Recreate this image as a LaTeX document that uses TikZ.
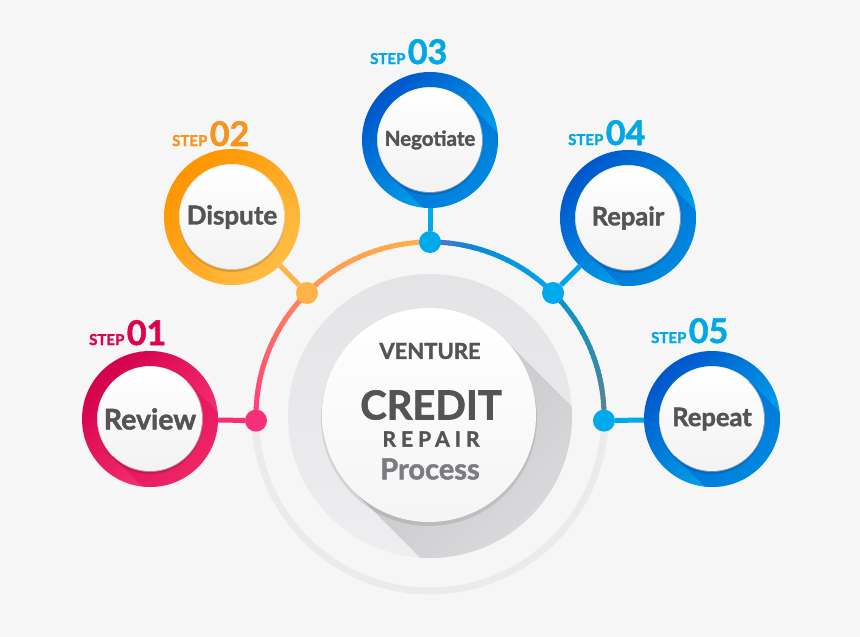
\documentclass[tikz,border=0pt]{standalone}
\usepackage{fontspec}
\setmainfont{Lato}[BoldFeatures={FakeBold=1.6}]
\definecolor{bg}{HTML}{F6F6F6}
\definecolor{txt}{HTML}{545457}
\definecolor{proc}{HTML}{7B7B80}
\definecolor{arcgray}{HTML}{EBEBED}
\definecolor{discA}{HTML}{E4E4E6}
\definecolor{discB}{HTML}{EEEEF0}
\definecolor{shadA}{HTML}{C4C4C6}
\definecolor{redD}{HTML}{D2004A}
\definecolor{redL}{HTML}{FF3A78}
\definecolor{redT}{HTML}{E0004D}
\definecolor{orD}{HTML}{FF9400}
\definecolor{orL}{HTML}{FFBC42}
\definecolor{orT}{HTML}{F7941D}
\definecolor{blD}{HTML}{0056CC}
\definecolor{blL}{HTML}{00B2F0}
\definecolor{blT}{HTML}{00A8E8}
\definecolor{dotR}{HTML}{F72F78}
\definecolor{dotO}{HTML}{FFB347}
\definecolor{dotB}{HTML}{00A8EC}
\definecolor{linR}{HTML}{F2306E}
\definecolor{linB}{HTML}{00A4E8}
\definecolor{aPink}{HTML}{FF3A80}
\definecolor{aSalmon}{HTML}{FF8A5C}
\definecolor{aSalmon2}{HTML}{FF9656}
\definecolor{aOrange}{HTML}{FFB24A}
\definecolor{aPurple}{HTML}{6070CC}
\definecolor{aBlue1}{HTML}{0888D8}
\definecolor{aBlue2}{HTML}{00A8EC}
\definecolor{aTeal1}{HTML}{0598CC}
\definecolor{aTeal2}{HTML}{2A8CAE}
\definecolor{aSlate}{HTML}{64808E}
\newcommand\gradarc[5]{%
  \foreach \i in {1,...,#5}{%
    \pgfmathsetmacro\aA{#1+(#2-#1)*(\i-1)/#5}%
    \pgfmathsetmacro\aB{#1+(#2-#1)*(\i+0.35)/#5}%
    \pgfmathtruncatemacro\pp{100*(\i-0.5)/#5}%
    \colorlet{segc}{#4!\pp!#3}%
    \draw[line width=5pt, segc] plot[domain=\aA:\aB, samples=3] ({430+174*cos(\x)},{416-174*sin(\x)});
  }}
\newcommand\stepcirc[9]{%
  % #1 name, #2 cx, #3 cy, #4 dark, #5 light, #6 text, #7 size, #8 band opacity, #9 band colour
  \shade[even odd rule, top color=#4, bottom color=#5, shading angle=45]
    (#2,#3) circle[radius=68pt] (#2,#3) circle[radius=53pt];
  \begin{scope}
    \clip (#2,#3) circle[radius=68pt];
    \fill[#9, opacity=#8] ({#2+37.5},{#3-37.5}) -- ++(90,90) -- ({#2-37.5+90},{#3+37.5+90}) -- ({#2-37.5},{#3+37.5}) -- cycle;
  \end{scope}
  \fill[black, opacity=0.14] (#2,{#3+2.5}) circle[radius=52.5pt];
  \shade[top color=white, bottom color=black!5] (#2,#3) circle[radius=52pt];
  \node[steptext, font=\fontsize{#7}{#7}\selectfont\bfseries] (#1) at (#2,#3) {#6};
}
\begin{document}
\begin{tikzpicture}[x=1pt,y=-1pt,
  steptext/.style={circle, minimum size=136pt, inner sep=0pt, text=txt},
  dotnode/.style={circle, minimum size=22pt, inner sep=0pt},
  link/.style={line width=5pt},
  lbl/.style={anchor=base west, inner sep=0pt, font=\bfseries},
  ctext/.style={inner sep=0pt, text=txt}]
\fill[bg] (0,0) rectangle (860,637);
\useasboundingbox (0,0) rectangle (860,637);

% outer light ring (lower part)
\draw[line width=7pt, arcgray] plot[domain=-1.5:-178.5, samples=120] ({430+175*cos(\x)},{416-175*sin(\x)});

% central gray disc with long shadow
\shade[top color=discA, bottom color=discB] (430,416) circle[radius=142pt];
\begin{scope}
  \clip (430,416) circle[radius=142pt];
  \shade[top color=shadA, bottom color=discA!70!discB, shading angle=45]
    (504.7,339.3) -- ++(160,160) -- (513.3,650.7) -- (353.3,490.7) -- cycle;
\end{scope}
\fill[black, opacity=0.10] (429,418) circle[radius=108pt];
\shade[top color=white, bottom color=black!4] (429,415) circle[radius=107pt];

% dot positions
\coordinate (p1) at (256,420.6);
\coordinate (p2) at (307,293);
\coordinate (p3) at (430,242);
\coordinate (p4) at (553,293);
\coordinate (p5) at (604,420.6);

% coloured arc
\gradarc{181.5}{135}{aPink}{aSalmon}{24}
\gradarc{135}{90}{aSalmon2}{aOrange}{24}
\gradarc{90}{75}{aPurple}{aBlue1}{10}
\gradarc{75}{45}{aBlue1}{aBlue2}{16}
\gradarc{45}{20}{aTeal1}{aTeal2}{14}
\gradarc{20}{-1.5}{aTeal2}{aSlate}{14}

% step circles
\stepcirc{s1}{150}{419}{redD}{redL}{Review}{28.5}{0.35}{redD}
\stepcirc{s2}{232}{217}{orD}{orL}{Dispute}{26}{0.25}{orL}
\stepcirc{s3}{430}{140}{blD}{blL}{Negotiate}{20.5}{0.45}{blD}
\stepcirc{s4}{628}{218}{blD}{blL}{Repair}{25.5}{0.45}{blD}
\stepcirc{s5}{712}{419}{blD}{blL}{Repeat}{25.5}{0.45}{blD}

% dots
\node[dotnode, fill=dotR] (d1) at (p1) {};
\node[dotnode, fill=dotO] (d2) at (p2) {};
\node[dotnode, fill=dotB] (d3) at (p3) {};
\node[dotnode, fill=dotB] (d4) at (p4) {};
\node[dotnode, fill=dotB] (d5) at (p5) {};

% connectors
\draw[link, linR] (s1) -- (d1);
\draw[link, dotO] (s2) -- (d2);
\draw[link, dotB] (s3) -- (d3);
\draw[link, linB] (s4) -- (d4);
\draw[link, dotB] (s5) -- (d5);

% step labels
\node[lbl, text=redT] (l1) at (89,345) {{\fontsize{15}{15}\selectfont STEP}\hspace{2.5pt}{\fontsize{34}{34}\selectfont 01}};
\node[lbl, text=orT] (l2) at (172,146) {{\fontsize{15}{15}\selectfont STEP}\hspace{2.5pt}{\fontsize{34}{34}\selectfont 02}};
\node[lbl, text=blT] (l3) at (370,64) {{\fontsize{15}{15}\selectfont STEP}\hspace{2.5pt}{\fontsize{34}{34}\selectfont 03}};
\node[lbl, text=blT] (l4) at (568,145) {{\fontsize{15}{15}\selectfont STEP}\hspace{2.5pt}{\fontsize{34}{34}\selectfont 04}};
\node[lbl, text=blT] (l5) at (651,343) {{\fontsize{15}{15}\selectfont STEP}\hspace{2.5pt}{\fontsize{34}{34}\selectfont 05}};

% centre text
\node[ctext, font=\fontsize{22}{22}\selectfont\bfseries] (venture) at (430,351) {VENTURE};
\node[ctext, font=\fontsize{40}{40}\selectfont\bfseries] (credit) at (431,405) {CREDIT};
\node[ctext, font=\fontsize{21}{21}\selectfont\bfseries\addfontfeatures{LetterSpace=24}] (repair) at (431,439) {REPAIR};
\node[ctext, text=proc, font=\fontsize{29}{29}\selectfont\bfseries] (process) at (430,469) {Process};
\end{tikzpicture}
\end{document}
